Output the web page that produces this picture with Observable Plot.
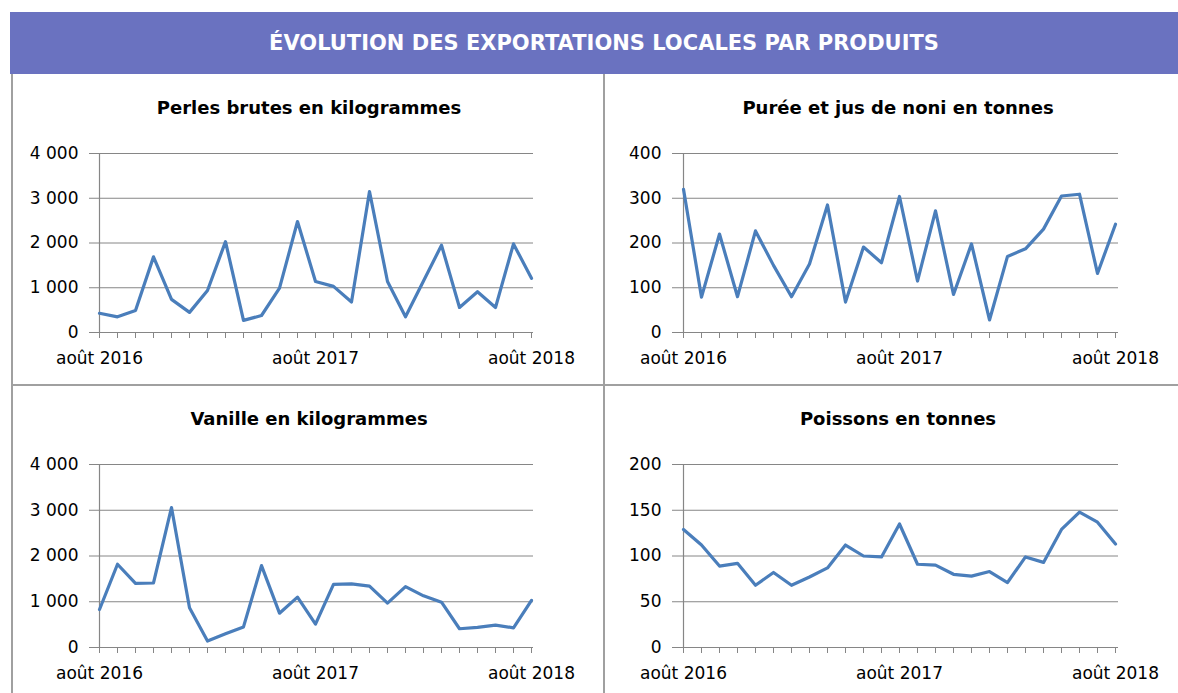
<!DOCTYPE html>
<html>
<head>
<meta charset="utf-8">
<script src="https://cdn.jsdelivr.net/npm/d3@7"></script>
<script src="https://cdn.jsdelivr.net/npm/@observablehq/plot@0.6"></script>
<style>
  html, body { margin: 0; padding: 0; background: #fff; }
  #root { position: relative; width: 1178px; height: 693px; overflow: hidden;
          font-family: "DejaVu Sans", sans-serif; }
  .header { position: absolute; left: 10px; top: 12px; width: 1180px; height: 62px; background: #6a72c0; }
  .htitle { position: absolute; left: 10px; top: 12px; width: 1188px; height: 62px; line-height: 62px;
            text-align: center; color: #fff; font-weight: bold; font-size: 21px; }
  .ptitle { position: absolute; width: 600px; height: 22px; line-height: 22px; text-align: center;
            font-weight: bold; font-size: 18px; color: #000; }
  .chart { position: absolute; }
  .line { position: absolute; background: #a0a0a0; }
</style>
</head>
<body>
<div id="root">
  <div class="header"></div>
  <div class="htitle">ÉVOLUTION DES EXPORTATIONS LOCALES PAR PRODUITS</div>
</div>
<script>
// Months (août 2016 → août 2018)
const months = ["2016-08","2016-09","2016-10","2016-11","2016-12","2017-01","2017-02","2017-03","2017-04","2017-05","2017-06","2017-07",
                "2017-08","2017-09","2017-10","2017-11","2017-12","2018-01","2018-02","2018-03","2018-04","2018-05","2018-06","2018-07","2018-08"];
const xTickLabels = {"2016-08": "août 2016", "2017-08": "août 2017", "2018-08": "août 2018"};

const titles = ["Perles brutes en kilogrammes", "Purée et jus de noni en tonnes", "Vanille en kilogrammes", "Poissons en tonnes"];

const perles  = [430, 350, 490, 1690, 740, 450, 940, 2030, 270, 380, 990, 2480, 1140, 1030, 680, 3150, 1140, 350, 1150, 1950, 560, 910, 560, 1980, 1210];
const noni    = [320, 79, 220, 80, 227, 150, 80, 153, 285, 68, 191, 156, 304, 115, 272, 85, 198, 28, 170, 187, 231, 305, 309, 132, 242];
const vanille = [830, 1820, 1400, 1410, 3060, 870, 140, 300, 450, 1790, 750, 1100, 510, 1380, 1390, 1340, 970, 1330, 1130, 990, 410, 440, 490, 430, 1030];
const poissons= [129, 112, 89, 92, 68, 82, 68, 77, 87, 112, 100, 99, 135, 91, 90, 80, 78, 83, 71, 99, 93, 129, 148, 137, 113];

const yTicksKg = [0, 1000, 2000, 3000, 4000];
const yTicksNoni = [0, 100, 200, 300, 400];
const yTicksFish = [0, 50, 100, 150, 200];

const GRAY = "#868686";
const BLUE = "#4a7ebb";
const root = document.getElementById("root");
const fmt = d => d3.format(",")(d).replace(/,/g, " ");

function panel(values, yTicks, title, box) {
  const data = months.map((m, i) => ({month: m, value: values[i]}));
  const chart = Plot.plot({
    width: box.w, height: box.h,
    marginLeft: box.ml, marginRight: box.mr, marginTop: box.mt, marginBottom: box.mb,
    style: {fontFamily: "'DejaVu Sans', sans-serif", fontSize: "17px", color: "#000", background: "transparent", overflow: "visible"},
    x: {type: "point", domain: months, padding: 0, label: null},
    y: {domain: [yTicks[0], yTicks[yTicks.length - 1]], label: null},
    marks: [
      Plot.gridY(yTicks, {stroke: GRAY, strokeOpacity: 1, strokeWidth: 1}),
      Plot.axisY({ticks: yTicks, tickSize: 7, tickPadding: 11, stroke: GRAY, fill: "#000", tickFormat: fmt, fontSize: 17, label: null}),
      Plot.axisX({ticks: months, tickSize: 6, tickPadding: 13, stroke: GRAY, fill: "#000", tickFormat: d => xTickLabels[d] ?? "", fontSize: 17, label: null}),
      Plot.ruleX([months[0]], {stroke: GRAY, strokeWidth: 1.2}),
      Plot.ruleY([0], {stroke: GRAY, strokeWidth: 1.2}),
      Plot.lineY(data, {x: "month", y: "value", stroke: BLUE, strokeWidth: 3.2, strokeLinejoin: "round"})
    ]
  });
  chart.classList.add("chart");
  chart.style.left = box.x + "px";
  chart.style.top = box.y + "px";
  root.appendChild(chart);
  const t = document.createElement("div");
  t.className = "ptitle";
  t.textContent = title;
  t.style.left = (box.tc - 300) + "px";
  t.style.top = (box.ty - 11) + "px";
  root.appendChild(t);
}

panel(perles, yTicksKg, titles[0], {x: 12, y: 74, w: 592, h: 311, ml: 84, mr: 71, mt: 79, mb: 53, tc: 309, ty: 108});
panel(noni, yTicksNoni, titles[1], {x: 604, y: 74, w: 574, h: 311, ml: 75, mr: 60, mt: 79, mb: 53, tc: 898, ty: 108});
panel(vanille, yTicksKg, titles[2], {x: 12, y: 385, w: 592, h: 308, ml: 84, mr: 71, mt: 79, mb: 46, tc: 309, ty: 419});
panel(poissons, yTicksFish, titles[3], {x: 604, y: 385, w: 574, h: 308, ml: 75, mr: 60, mt: 79, mb: 46, tc: 898, ty: 419});

// panel borders
function line(x, y, w, h) {
  const d = document.createElement("div");
  d.className = "line";
  Object.assign(d.style, {left: x + "px", top: y + "px", width: w + "px", height: h + "px"});
  root.appendChild(d);
}
line(11, 74, 2, 619);
line(603, 74, 2, 619);
line(11, 384, 1167, 2);
</script>
</body>
</html>
